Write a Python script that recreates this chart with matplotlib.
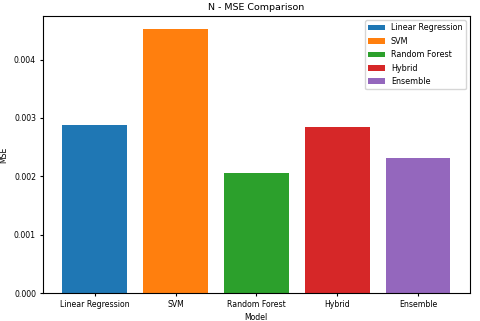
import matplotlib
matplotlib.use("Agg")
import matplotlib.pyplot as plt

# model results
models = ["Linear Regression", "SVM", "Random Forest", "Hybrid", "Ensemble"]
mse = [0.002875, 0.00452, 0.002065, 0.002847, 0.00232]
colors = ["#1f77b4", "#ff7f0e", "#2ca02c", "#d62728", "#9467bd"]

fig = plt.figure(figsize=(4.8, 3.21), dpi=100)
ax = fig.add_axes([0.0896, 0.087, 0.889, 0.863])

bars = ax.bar(models, mse, color=colors, label=models)
ax.set_title("N - MSE Comparison", fontsize=6.8, pad=4)
ax.set_xlabel("Model", fontsize=5.6, labelpad=3)
ax.set_ylabel("MSE", fontsize=5.6, labelpad=4)
ax.tick_params(labelsize=5.6, length=2.5, pad=2.5)
ax.legend(fontsize=5.8, loc="upper right", labelspacing=0.55)

plt.savefig("out.png", dpi=100)
